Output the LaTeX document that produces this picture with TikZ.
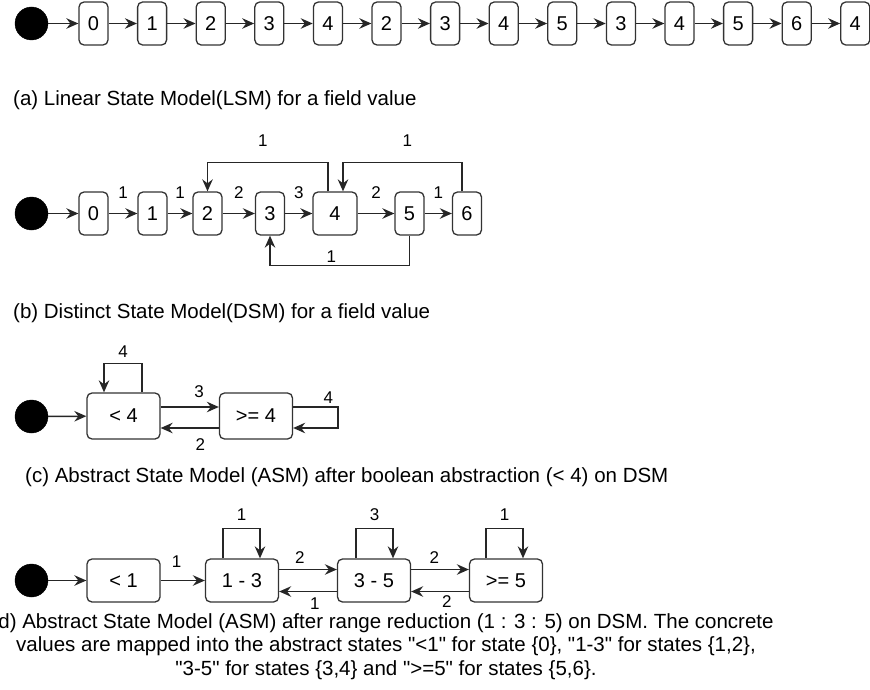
\documentclass[tikz,border=0pt]{standalone}
\usepackage{fontspec}
\setmainfont{Liberation Sans}[Ligatures=TeXOff]
\usetikzlibrary{arrows.meta}

\tikzset{
  box/.style={draw=black!80, line width=1.3pt, rounded corners=5pt, fill=white,
    inner sep=0pt, minimum width=29pt, minimum height=43pt,
    font=\fontsize{20}{24}\selectfont},
  wide/.style={minimum width=73pt},
  initstate/.style={circle, fill=black, draw=black, inner sep=0pt, minimum size=33pt},
  trans/.style={draw=black!85, line width=1.5pt, -{Stealth[length=12pt,width=10.5pt,inset=4pt]}},
  lbl/.style={font=\fontsize{17}{19}\selectfont, inner sep=0pt},
  capt/.style={font=\fontsize{20.5}{23.5}\selectfont, inner sep=0pt}
}

\begin{document}
\begin{tikzpicture}[
  x=1pt,
  y=-1pt
]
\useasboundingbox (0,0) rectangle (870,690);

% (a) linear model
\node[initstate] (a0) at (31.5,23.5) {};
\foreach \i/\v in {1/0,2/1,3/2,4/3,5/4,6/2,7/3,8/4,9/5,10/3,11/4,12/5,13/6,14/4} {
  \node[box] (a\i) at ({93.5+58.6*(\i-1)},23.5) {\v};
}
\foreach \i [remember=\i as \lasti (initially 0)] in {1,...,14} {
  \draw[trans] (a\lasti) -- (a\i);
}
\node[capt, anchor=west] (capa) at (13,100) {(a) Linear State Model(LSM) for a field value};

% (b) distinct model
\node[initstate] (b0) at (31.5,213.5) {};
\foreach \i/\x/\v in {1/93.5/0,2/152.5/1,3/207.5/2,4/270/3,6/409.5/5,7/467/6} {
  \node[box] (b\i) at (\x,213.5) {\v};
}
\node[box, minimum width=44pt] (b5) at (335,213.5) {4};
\draw[trans] (b0) -- (b1);
\foreach \i/\j/\w in {1/2/1,2/3/1,3/4/2,4/5/3,5/6/2,6/7/1} {
  \draw[trans] (b\i) -- node[lbl, above=14pt] {\w} (b\j);
}
\draw[trans] ([xshift=-7pt]b5.north) -- ++(0,-29) -| node[lbl, pos=0.27, above=15pt] {1} (b3.north);
\draw[trans] ([xshift=-5pt]b7.north) -- ++(0,-29) -| node[lbl, pos=0.23, above=15pt] {1} ([xshift=8pt]b5.north);
\draw[trans] (b6.south) -- ++(0,30) -| node[lbl, pos=0.28, above=2pt] {1} (b4.south);
\node[capt, anchor=west] (capb) at (13,313) {(b) Distinct State Model(DSM) for a field value};

% (c) boolean abstraction
\node[initstate] (c0) at (31.5,416.5) {};
\node[box, wide, minimum height=46pt] (c1) at (123.5,416) {< 4};
\node[box, wide, minimum height=46pt] (c2) at (256,416) {>= 4};
\draw[trans] (c0) -- (c1);
\draw[trans] ([yshift=9pt]c1.east) -- node[lbl, pos=0.66, above=9pt] {3} ([yshift=9pt]c2.west);
\draw[trans] ([yshift=-12pt]c2.west) -- node[lbl, pos=0.32, below=10pt] {2} ([yshift=-12pt]c1.east);
\draw[trans] ([xshift=18.5pt]c1.north) -- ++(0,-29) -| node[lbl, pos=0.25, above=5pt] {4} ([xshift=-19.5pt]c1.north);
\draw[trans] ([yshift=9pt]c2.east) -- node[lbl, pos=0.78, above=3pt] {4} ++(45,0) |- ([yshift=-12pt]c2.east);
\node[capt, anchor=west] (capc) at (25,477) {(c) Abstract State Model (ASM) after boolean abstraction (< 4) on DSM};

% (d) range reduction
\node[initstate] (d0) at (31.5,580.5) {};
\node[box, wide] (d1) at (123.5,580.5) {< 1};
\node[box, wide] (d2) at (242,580.5) {1 - 3};
\node[box, wide] (d3) at (374,580.5) {3 - 5};
\node[box, wide] (d4) at (506,580.5) {>= 5};
\draw[trans] (d0) -- (d1);
\draw[trans] (d1) -- node[lbl, pos=0.36, above=12pt] {1} (d2);
\draw[trans] ([yshift=11pt]d2.east) -- node[lbl, pos=0.36, above=5pt] {2} ([yshift=11pt]d3.west);
\draw[trans] ([yshift=-11pt]d3.west) -- node[lbl, pos=0.38, below=6pt] {1} ([yshift=-11pt]d2.east);
\draw[trans] ([yshift=11pt]d3.east) -- node[lbl, pos=0.4, above=5pt] {2} ([yshift=11pt]d4.west);
\draw[trans] ([yshift=-11pt]d4.west) -- node[lbl, pos=0.38, below=3pt] {2} ([yshift=-11pt]d3.east);
\foreach \n/\w/\lx/\rx in {d2/1/-19/18,d3/3/-18/19,d4/1/-20/17} {
  \draw[trans] ([xshift=\lx pt]\n.north) -- ++(0,-30) -| node[lbl, pos=0.25, above=7pt] {\w} ([xshift=\rx pt]\n.north);
}
\node[capt, align=center, anchor=north] (capd) at (386,613) {d) Abstract State Model (ASM) after range reduction (1 : 3 : 5) on DSM. The concrete\\values are mapped into the abstract states "<1" for state \{0\}, "1-3" for states \{1,2\},\\"3-5" for states \{3,4\} and ">=5" for states \{5,6\}.};
\end{tikzpicture}
\end{document}
